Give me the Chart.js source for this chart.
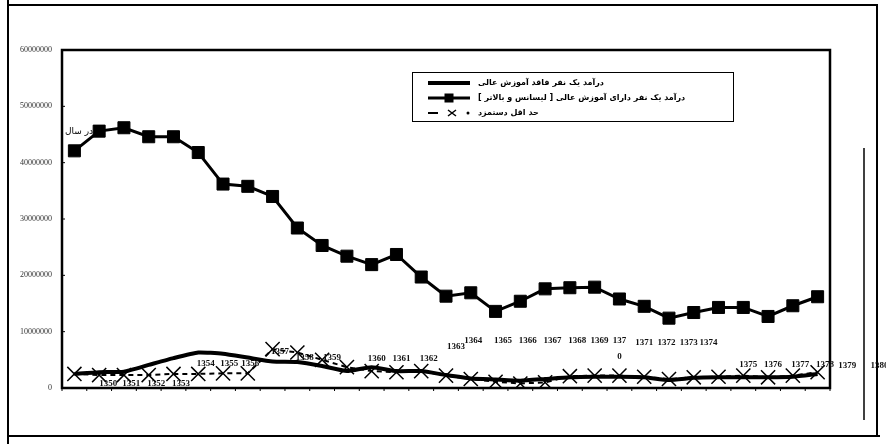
<!DOCTYPE html>
<html>
<head>
<meta charset="utf-8">
<script src="https://cdn.jsdelivr.net/npm/chart.js@4/dist/chart.umd.min.js"></script>
<style>
html,body{margin:0;padding:0;background:#fff;}
#wrap{width:886px;height:444px;position:relative;}
</style>
</head>
<body>
<div id="wrap"><canvas id="c" width="886" height="444"></canvas></div>
<script>
// ---- data ----
const years = ['1350','1351','1352','1353','1354','1355','1356','1357','1358','1359',
               '1360','1361','1362','1363','1364','1365','1366','1367','1368','1369',
               '1370','1371','1372','1373','1374','1375','1376','1377','1378','1379','1380'];

const incomeNoHigherEd = [2500000,2800000,2900000,4100000,5300000,6300000,6100000,5400000,4700000,4600000,
                          3900000,3000000,3700000,3000000,3000000,2300000,1700000,1500000,1300000,1600000,
                          1900000,2000000,2000000,1900000,1400000,1800000,1900000,1900000,1900000,2000000,2500000];

const incomeHigherEd = [42100000,45600000,46200000,44600000,44600000,41800000,36200000,35800000,34000000,28400000,
                        25300000,23400000,21900000,23700000,19700000,16300000,16900000,13600000,15400000,17600000,
                        17800000,17900000,15800000,14500000,12400000,13400000,14300000,14300000,12700000,14600000,16200000];

const minimumWage = [2500000,2300000,2300000,2300000,2500000,2500000,2600000,2600000,6900000,6300000,
                     5000000,3700000,3000000,2800000,3000000,2200000,1600000,1100000,800000,1000000,
                     2100000,2200000,2200000,2000000,1600000,1900000,2000000,2200000,1900000,2200000,2800000];

const yTickValues = [0,10000000,20000000,30000000,40000000,50000000,60000000];

const seriesNames = [
  'درآمد یک نفر فاقد آموزش عالی',
  'درآمد یک نفر دارای آموزش عالی [ لیسانس و بالاتر ]',
  'حد اقل دستمزد'
];
const noteText = 'در سال';

// ---- layout of the scattered year labels (category slot, value level) ----
const yearLabelSlot = [1.37,2.3,3.3,4.3, 5.3,6.25,7.1, 8.3,9.3,10.4, 12.2,13.2,14.3, 15.4,
                       16.1,17.3,18.3,19.3,20.3,21.2,22.0, 23.0,23.9,24.8,25.6, 27.2,28.2,29.3,30.3, 31.2,32.5];
const yearLabelLevel = [800000,800000,800000,800000, 4300000,4300000,4300000, 6500000,5400000,5400000,
                        5200000,5200000,5200000, 7400000,
                        8400000,8400000,8400000,8400000,8400000,8400000,8400000,
                        8100000,8100000,8100000,8100000, 4200000,4200000,4200000,4200000, 4000000,4000000];
const wrappedLabels = {'1370':['137','0']};

const FA = '"DejaVu Sans", sans-serif';
const SERIF = '"Liberation Serif", "DejaVu Serif", serif';

const decor = {
  id:'decor',
  afterDraw(chart){
    const ctx = chart.ctx;
    const a = chart.chartArea;
    const xs = chart.scales.x, ys = chart.scales.y;
    const ds = chart.data.datasets;
    ctx.save();
    // plot frame
    ctx.strokeStyle = '#000';
    ctx.lineWidth = 2.5;
    ctx.strokeRect(a.left, a.top, a.right - a.left, a.bottom - a.top);
    // outer frame of the figure
    ctx.lineWidth = 2;
    ctx.beginPath();
    ctx.moveTo(8, 0); ctx.lineTo(8, 444);
    ctx.moveTo(8, 5); ctx.lineTo(878, 5);
    ctx.moveTo(877, 5); ctx.lineTo(877, 436);
    ctx.moveTo(8, 436); ctx.lineTo(880, 436);
    ctx.stroke();
    ctx.lineWidth = 1.5;
    ctx.beginPath();
    ctx.moveTo(864, 148); ctx.lineTo(864, 420);
    ctx.stroke();
    // small ticks along the axes
    ctx.lineWidth = 1;
    for (let i = 0; i <= years.length; i++) {
      const x = xs.getPixelForValue(i - 0.5);
      ctx.beginPath(); ctx.moveTo(x, a.bottom); ctx.lineTo(x, a.bottom + 3); ctx.stroke();
    }
    for (const v of yTickValues) {
      const y = ys.getPixelForValue(v);
      ctx.beginPath(); ctx.moveTo(a.left, y); ctx.lineTo(a.left + 3, y); ctx.stroke();
    }

    // year labels
    ctx.fillStyle = '#111';
    ctx.font = 'bold 9px ' + SERIF;
    ctx.textAlign = 'center';
    ctx.textBaseline = 'middle';
    years.forEach((yr, i) => {
      const x = xs.getPixelForValue(yearLabelSlot[i]);
      const y = ys.getPixelForValue(yearLabelLevel[i]);
      const parts = wrappedLabels[yr] || [yr];
      parts.forEach((p, k) => ctx.fillText(p, x, y + k * 16));
    });

    // note next to first points
    ctx.font = '9px ' + FA;
    ctx.direction = 'rtl';
    ctx.textAlign = 'right';
    ctx.fillStyle = '#000';
    ctx.fillText(noteText, a.left + 31, ys.getPixelForValue(45500000));

    // legend box
    const bx = 412, by = 72, bw = 321, bh = 49;
    ctx.direction = 'ltr';
    ctx.fillStyle = '#fff';
    ctx.fillRect(bx, by, bw, bh);
    ctx.strokeStyle = '#000';
    ctx.lineWidth = 1;
    ctx.strokeRect(bx + 0.5, by + 0.5, bw, bh);
    const rows = [by + 11, by + 26, by + 41];
    const sx0 = bx + 16, sx1 = bx + 58;
    // row 1
    ctx.lineWidth = ds[0].borderWidth;
    ctx.beginPath(); ctx.moveTo(sx0, rows[0]); ctx.lineTo(sx1, rows[0]); ctx.stroke();
    // row 2
    ctx.lineWidth = ds[1].borderWidth;
    ctx.beginPath(); ctx.moveTo(sx0, rows[1]); ctx.lineTo(sx1, rows[1]); ctx.stroke();
    ctx.fillStyle = '#000';
    ctx.fillRect((sx0 + sx1) / 2 - 4.5, rows[1] - 4.5, 9, 9);
    // row 3
    ctx.lineWidth = 2;
    ctx.beginPath(); ctx.moveTo(sx0, rows[2]); ctx.lineTo(sx0 + 10, rows[2]); ctx.stroke();
    ctx.lineWidth = 1.5;
    const cx = sx0 + 24;
    ctx.beginPath();
    ctx.moveTo(cx - 4, rows[2] - 3); ctx.lineTo(cx + 4, rows[2] + 3);
    ctx.moveTo(cx - 4, rows[2] + 3); ctx.lineTo(cx + 4, rows[2] - 3);
    ctx.stroke();
    ctx.beginPath(); ctx.arc(sx0 + 40, rows[2], 1.5, 0, Math.PI * 2); ctx.fill();
    // legend texts
    ctx.font = 'bold 8px ' + FA;
    ctx.direction = 'rtl';
    ctx.textAlign = 'left';
    ctx.textBaseline = 'middle';
    seriesNames.forEach((t, i) => ctx.fillText(t, bx + 66, rows[i]));
    ctx.restore();
  }
};

new Chart(document.getElementById('c'), {
  type: 'line',
  data: {
    labels: years,
    datasets: [
      {
        label: seriesNames[0],
        data: incomeNoHigherEd,
        borderColor: '#000',
        backgroundColor: '#000',
        borderWidth: 4,
        pointRadius: 0,
        tension: 0.15
      },
      {
        label: seriesNames[1],
        data: incomeHigherEd,
        borderColor: '#000',
        backgroundColor: '#000',
        borderWidth: 3,
        pointStyle: 'rect',
        pointRadius: 8.5,
        pointBorderWidth: 1,
        tension: 0
      },
      {
        label: seriesNames[2],
        data: minimumWage,
        borderColor: '#000',
        backgroundColor: '#000',
        borderWidth: 2,
        borderDash: [5, 4],
        pointStyle: 'crossRot',
        pointRadius: 10,
        pointBorderWidth: 1.5,
        tension: 0
      }
    ]
  },
  options: {
    responsive: false,
    animation: false,
    devicePixelRatio: 1,
    layout: { padding: { top: 50, right: 56, bottom: 56, left: 0 } },
    plugins: { legend: { display: false }, tooltip: { enabled: false } },
    scales: {
      x: {
        type: 'category',
        display: false,
        offset: true
      },
      y: {
        min: 0,
        max: 60000000,
        afterFit(scale){ scale.width = 62; },
        afterBuildTicks(scale){ scale.ticks = yTickValues.map(v => ({ value: v })); },
        grid: { display: false, drawTicks: false },
        border: { display: false },
        ticks: {
          padding: 10,
          color: '#333',
          font: { family: SERIF, size: 8 },
          callback: v => String(v)
        }
      }
    }
  },
  plugins: [decor]
});
</script>
</body>
</html>
